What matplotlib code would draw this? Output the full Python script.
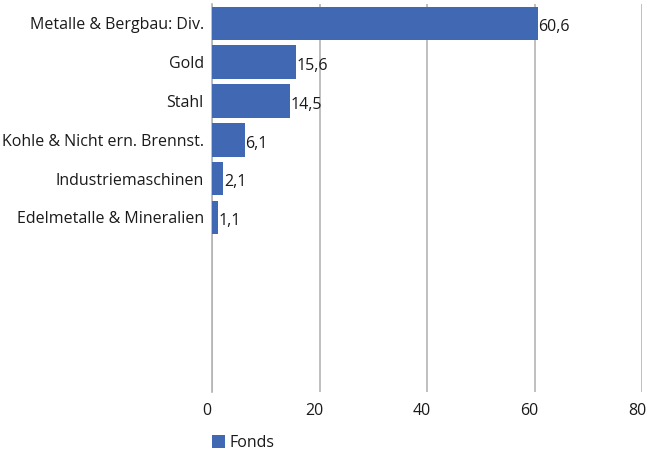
import matplotlib.pyplot as plt
import matplotlib.transforms as mtransforms
from matplotlib.patches import Patch

# Data
categories = [
    "Metalle & Bergbau: Div.",
    "Gold",
    "Stahl",
    "Kohle & Nicht ern. Brennst.",
    "Industriemaschinen",
    "Edelmetalle & Mineralien",
]
values = [60.6, 15.6, 14.5, 6.1, 2.1, 1.1]
x_ticks = [0, 20, 40, 60, 80]
series_name = "Fonds"

BAR_COLOR = "#4169b3"
GRID_COLOR = "#b4b4b4"
TEXT_COLOR = "#1a1a1a"

plt.rcParams["font.family"] = ["Open Sans", "DejaVu Sans"]

fig = plt.figure(figsize=(6.49, 4.57), dpi=100)
ax = fig.add_axes([212 / 649, 1 - 392 / 457, 430 / 649, 388 / 457])

pos = list(range(len(categories)))
ax.barh(pos, values, height=0.87, color=BAR_COLOR, zorder=3)

for p, v in zip(pos, values):
    ax.text(v + 0.15, p + 0.1, f"{v:.1f}".replace(".", ","), va="center", ha="left",
            fontsize=11.5, color=TEXT_COLOR, zorder=4)

ax.set_xlim(0, 80)
ax.set_ylim(9.5, -0.5)
ax.set_xticks(x_ticks)
ax.set_xticklabels([str(t) for t in x_ticks], fontsize=11.5, color=TEXT_COLOR)
ax.set_yticks(pos)
ax.set_yticklabels(categories, fontsize=11.5, color=TEXT_COLOR)
ax.tick_params(axis="y", length=0, pad=6)
ax.tick_params(axis="x", length=0, pad=8)

# shift x tick labels slightly left, as in the reference
shift = mtransforms.ScaledTranslation(-5 / 100, 0, fig.dpi_scale_trans)
for lbl in ax.get_xticklabels():
    lbl.set_transform(lbl.get_transform() + shift)

ax.grid(axis="x", color=GRID_COLOR, linewidth=1.2, zorder=0)
for side in ["top", "right", "bottom"]:
    ax.spines[side].set_visible(False)
ax.spines["left"].set_color(GRID_COLOR)
ax.spines["left"].set_linewidth(1.2)

fig.legend(
    handles=[Patch(facecolor=BAR_COLOR, label=series_name)],
    loc="center left",
    bbox_to_anchor=(198 / 649, 1 - 443 / 457),
    frameon=False,
    fontsize=11.5,
    handlelength=0.8,
    handleheight=0.8,
    handletextpad=0.3,
    labelcolor=TEXT_COLOR,
)

fig.savefig("out.png", dpi=100)
